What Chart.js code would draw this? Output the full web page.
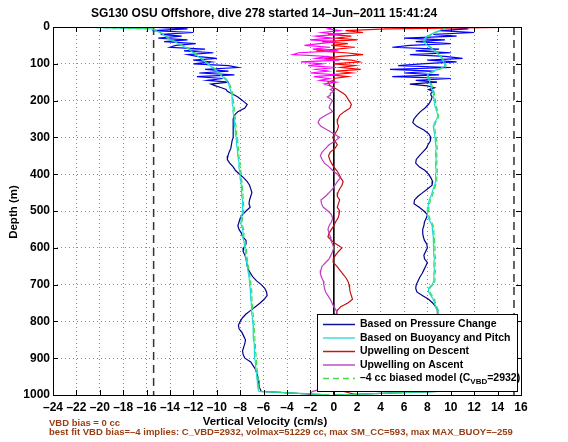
<!DOCTYPE html>
<html>
<head>
<meta charset="utf-8">
<script src="https://cdn.jsdelivr.net/npm/chart.js@4"></script>
<style>
  html, body { margin: 0; background: #fff; }
  #wrap { width: 568px; height: 442px; }
</style>
</head>
<body>
<div id="wrap"><canvas id="grafico"></canvas></div>
<script>
// depth grid (m): 5 m steps to 200 m, then 10 m steps
const depth = [
  0, 5, 10, 15, 20, 25, 30, 35, 40, 45,
  50, 55, 60, 65, 70, 75, 80, 85, 90, 95,
  100, 105, 110, 115, 120, 125, 130, 135, 140, 145,
  150, 155, 160, 165, 170, 175, 180, 185, 190, 195,
  200,
  210, 220, 230, 240, 250, 260, 270, 280, 290, 300,
  310, 320, 330, 340, 350, 360, 370, 380, 390, 400,
  410, 420, 430, 440, 450, 460, 470, 480, 490, 500,
  510, 520, 530, 540, 550, 560, 570, 580, 590, 600,
  610, 620, 630, 640, 650, 660, 670, 680, 690, 700,
  710, 720, 730, 740, 750, 760, 770, 780, 790, 800,
  810, 820, 830, 840, 850, 860, 870, 880, 890, 900,
  910, 920, 930, 940, 950, 960, 970, 980, 990, 1000
];

// descent, based on pressure change (cm/s)
const pressDown = [
  -16.0, -12.5, -15.5, -12.0, -14.8, -13.0, -15.0, -12.5, -14.5, -11.8,
  -13.5, -14.0, -11.0, -12.8, -10.3, -12.5, -11.7, -10.0, -12.0, -10.5,
  -12.0, -9.0, -8.2, -11.0, -9.0, -11.5, -8.5, -11.7, -9.5, -10.8,
  -9.0, -10.5, -10.1, -9.6, -9.2, -9.1, -8.8, -8.5, -8.2, -8.0,
  -7.8,
  -7.4, -7.6, -8.2, -8.5, -8.6, -8.6, -8.6, -8.6, -8.6, -8.6,
  -8.7, -8.75, -8.8, -8.95, -9.05, -9.1, -8.9, -8.6, -8.4, -8.05,
  -7.7, -7.4, -7.2, -7.1, -7.0, -7.1, -7.2, -7.25, -7.15, -7.5,
  -7.8, -8.0, -8.1, -8.2, -8.1, -7.9, -7.8, -7.5, -7.5, -7.7,
  -7.75, -7.6, -7.5, -7.45, -7.4, -7.3, -7.1, -6.9, -6.6, -6.2,
  -5.9, -5.75, -5.7, -5.95, -6.3, -6.7, -7.1, -7.5, -7.8, -8.0,
  -8.15, -8.1, -7.85, -7.7, -7.55, -7.6, -7.7, -7.8, -7.75, -7.6,
  -7.1, -6.9, -6.7, -6.6, -6.5, -6.45, -6.4, -6.35, -6.2, -0.5
];

// ascent, based on pressure change
const pressUp = [
  9.5, 11.5, 9.0, 12.0, 8.5, 10.5, 6.0, 9.5, 7.0, 10.0,
  6.5, 5.0, 9.0, 7.0, 10.0, 6.5, 9.5, 11.0, 8.0, 10.5,
  7.5, 5.5, 10.0, 4.8, 8.5, 6.0, 9.0, 5.0, 10.0, 7.0,
  8.8, 6.5, 8.0, 8.6, 8.1, 8.5, 8.3, 8.3, 8.4, 8.35,
  8.3,
  8.1, 7.8, 7.4, 7.1, 6.85, 6.75, 7.1, 7.7, 8.1, 8.3,
  8.25, 8.05, 7.9, 7.6, 7.3, 7.05, 7.0, 7.3, 7.8, 8.1,
  8.3, 8.45, 8.4, 8.0, 7.6, 7.2, 6.9, 6.85, 7.3, 7.7,
  8.0, 7.9, 7.75, 7.7, 7.6, 7.6, 7.65, 7.75, 7.95, 8.0,
  7.85, 7.7, 7.75, 8.0, 7.85, 7.7, 7.55, 7.35, 7.2, 7.05,
  7.0, 7.1, 7.6, 8.1, 8.45, 8.7, 8.85, 8.9, 8.9, 8.85,
  8.8, 8.75, 8.7, 8.7, 8.75, 8.8, 8.8, 8.75, 8.7, 8.7,
  8.75, 8.8, 8.8, 8.85, 8.85, 8.9, 8.9, 8.9, 8.8, 0.0
];

// based on buoyancy and pitch
const buoyDown = [
  -22.0, -15.6, -15.2, -14.9, -14.6, -14.4, -14.2, -14.0, -13.6, -13.3,
  -13.0, -12.7, -12.4, -12.2, -12.0, -11.8, -11.6, -11.4, -11.2, -11.0,
  -10.8, -10.6, -10.4, -10.2, -10.0, -9.85, -9.7, -9.5, -9.35, -9.2,
  -9.1, -9.0, -8.95, -8.9, -8.85, -8.8, -8.75, -8.72, -8.7, -8.7,
  -8.68,
  -8.65, -8.6, -8.62, -8.55, -8.5, -8.52, -8.45, -8.4, -8.42, -8.35,
  -8.3, -8.32, -8.25, -8.2, -8.22, -8.15, -8.1, -8.12, -8.05, -8.0,
  -8.02, -7.95, -7.9, -7.92, -7.85, -7.87, -7.8, -7.82, -7.8, -7.8,
  -7.85, -7.9, -7.95, -7.9, -7.8, -7.75, -7.8, -7.7, -7.65, -7.6,
  -7.55, -7.55, -7.5, -7.45, -7.4, -7.35, -7.3, -7.25, -7.2, -7.2,
  -7.15, -7.1, -7.1, -7.1, -7.05, -7.05, -7.0, -7.0, -6.95, -6.95,
  -6.9, -6.9, -6.9, -6.85, -6.85, -6.8, -6.8, -6.8, -6.75, -6.75,
  -6.7, -6.7, -6.65, -6.6, -6.6, -6.55, -6.5, -6.5, -6.4, -0.3
];

const buoyUp = [
  9.5, 9.3, 9.0, 8.6, 8.3, 8.0, 7.8, 7.7, 7.7, 7.8,
  8.0, 8.2, 8.4, 8.6, 8.8, 8.95, 9.1, 9.2, 9.3, 9.4,
  9.45, 9.5, 9.3, 8.9, 8.5, 8.2, 8.0, 8.0, 8.1, 8.15,
  8.2, 8.25, 8.3, 8.35, 8.4, 8.45, 8.5, 8.5, 8.55, 8.55,
  8.6,
  8.6, 8.7, 8.8, 8.9, 8.8, 8.6, 8.5, 8.55, 8.6, 8.65,
  8.7, 8.7, 8.75, 8.7, 8.7, 8.75, 8.7, 8.7, 8.75, 8.7,
  8.7, 8.7, 8.6, 8.5, 8.4, 8.3, 8.15, 8.1, 8.05, 8.0,
  8.0, 8.1, 8.25, 8.4, 8.45, 8.45, 8.5, 8.5, 8.55, 8.55,
  8.55, 8.55, 8.6, 8.55, 8.55, 8.6, 8.55, 8.55, 8.55, 8.4,
  8.1, 8.1, 8.3, 8.5, 8.6, 8.7, 8.85, 8.9, 8.95, 9.0,
  9.0, 9.0, 9.05, 9.0, 9.0, 9.05, 9.0, 9.0, 9.05, 9.0,
  9.0, 9.05, 9.0, 9.0, 9.05, 9.0, 9.0, 9.0, 8.9, 0.0
];

// -4 cc biased model
const modelDown = [
  -22.4, -15.5, -15.1, -14.8, -14.5, -14.3, -14.1, -13.9, -13.5, -13.2,
  -12.9, -12.6, -12.3, -12.1, -11.9, -11.7, -11.5, -11.3, -11.1, -10.9,
  -10.7, -10.5, -10.3, -10.1, -9.9, -9.75, -9.6, -9.4, -9.25, -9.1,
  -9.0, -8.9, -8.85, -8.8, -8.75, -8.7, -8.65, -8.62, -8.6, -8.6,
  -8.58,
  -8.55, -8.5, -8.52, -8.45, -8.4, -8.42, -8.35, -8.3, -8.32, -8.25,
  -8.2, -8.22, -8.15, -8.1, -8.12, -8.05, -8.0, -8.02, -7.95, -7.9,
  -7.92, -7.85, -7.8, -7.82, -7.75, -7.77, -7.7, -7.72, -7.7, -7.7,
  -7.75, -7.8, -7.85, -7.8, -7.7, -7.65, -7.7, -7.6, -7.55, -7.5,
  -7.45, -7.45, -7.4, -7.35, -7.3, -7.25, -7.2, -7.15, -7.1, -7.1,
  -7.05, -7.0, -7.0, -7.0, -6.95, -6.95, -6.9, -6.9, -6.85, -6.85,
  -6.8, -6.8, -6.8, -6.75, -6.75, -6.7, -6.7, -6.7, -6.65, -6.65,
  -6.6, -6.6, -6.55, -6.5, -6.5, -6.45, -6.4, -6.4, -6.3, -0.2
];

const modelUp = [
  9.6, 9.4, 9.1, 8.7, 8.4, 8.1, 7.9, 7.8, 7.8, 7.9,
  8.1, 8.3, 8.5, 8.7, 8.9, 9.05, 9.2, 9.3, 9.4, 9.5,
  9.55, 9.6, 9.4, 9.0, 8.6, 8.3, 8.1, 8.1, 8.2, 8.25,
  8.3, 8.35, 8.4, 8.45, 8.5, 8.55, 8.6, 8.6, 8.65, 8.65,
  8.7,
  8.7, 8.8, 8.9, 8.95, 8.9, 8.7, 8.6, 8.65, 8.7, 8.75,
  8.8, 8.8, 8.85, 8.8, 8.8, 8.85, 8.8, 8.8, 8.85, 8.8,
  8.8, 8.8, 8.7, 8.6, 8.5, 8.4, 8.25, 8.2, 8.15, 8.1,
  8.1, 8.2, 8.35, 8.5, 8.55, 8.55, 8.6, 8.6, 8.65, 8.65,
  8.65, 8.65, 8.7, 8.65, 8.65, 8.7, 8.65, 8.65, 8.65, 8.5,
  8.2, 8.2, 8.4, 8.6, 8.7, 8.8, 8.95, 9.0, 9.05, 9.1,
  9.1, 9.1, 9.15, 9.1, 9.1, 9.15, 9.1, 9.1, 9.15, 9.1,
  9.1, 9.15, 9.1, 9.1, 9.15, 9.1, 9.1, 9.1, 9.0, 0.1
];

// upwelling (water velocity)
const upwellDown = [
  17.0, 4.5, 1.0, 2.5, -0.5, 1.5, 0.2, 2.0, -1.0, 1.2,
  -0.2, 1.8, 0.3, -1.5, 1.0, 2.5, 0.5, -0.8, 1.5, 2.2,
  0.0, 1.8, 0.6, 2.3, 0.2, 1.5, -0.3, 1.2, 0.0, 0.0,
  -0.5, -0.4, -0.3, 0.0, 0.3, 0.55, 0.8, 1.0, 1.1, 1.2,
  1.3,
  1.5, 1.4, 0.9, 0.5, 0.35, 0.3, 0.4, 0.3, 0.1, -0.1,
  0.1, 0.3, 0.1, -0.3, -0.45, -0.35, -0.2, 0.0, 0.25, 0.45,
  0.6, 0.8, 0.7, 0.5, 0.35, 0.3, 0.5, 0.4, 0.3, 0.5,
  0.45, 0.35, 0.15, 0.0, -0.2, -0.4, -0.5, -0.2, 0.2, 0.7,
  0.4, 0.15, -0.05, -0.05, 0.25, 0.5, 0.75, 1.0, 1.2, 1.3,
  1.35, 1.4, 1.5, 1.6, 1.2, 0.6, 0.3, 0.2, 0.3, 0.4,
  0.5, 0.4, 0.3, 0.4, 0.5, 0.6, 0.5, 0.4, 0.5, 0.6,
  0.5, 0.4, 0.5, 0.6, 0.5, 0.4, 0.5, 0.6, 0.8, 2.0
];

const upwellUp = [
  0.0, -0.5, 0.5, -1.0, 0.3, -1.5, -0.2, -2.0, 0.2, -1.2,
  -2.5, -0.3, -1.8, 0.4, -3.0, -3.5, -0.5, -1.5, 0.5, -2.8,
  -1.0, -2.2, 0.2, -1.5, -0.5, -2.0, 0.3, -1.7, -0.4, -1.2,
  0.2, -0.8, -0.3, 0.0, -0.3, 0.0, -0.3, -0.3, -0.55, -0.3,
  -0.1,
  -0.3, -0.4, -0.1, -0.7, -1.2, -1.35, -1.1, -0.55, 0.0, 0.5,
  0.1, -0.4, -0.7, -1.0, -1.15, -1.0, -0.8, -0.4, -0.1, 0.3,
  0.55, 0.3, 0.1, -0.1, -0.4, -0.7, -1.1, -1.05, -0.9, -0.5,
  -0.2, -0.1, -0.2, -0.4, -0.5, -0.4, -0.3, -0.25, -0.1, 0.0,
  -0.1, -0.25, -0.4, -0.7, -1.0, -1.1, -1.15, -1.05, -0.9, -0.85,
  -0.8, -0.7, -0.5, -0.3, -0.15, 0.0, 0.2, 0.3, 0.2, 0.0,
  -0.2, -0.3, -0.2, -0.1, -0.2, -0.3, -0.4, -0.3, -0.2, -0.3,
  -0.4, -0.5, -0.4, -0.3, -0.4, -0.5, -0.6, -0.5, -1.8, -2.2
];

// reference lines
const limitVel = [-15.4, 15.4];
const lineDepth = [0, 1000];

const xTicks = [-24, 16, 2];   // min, max, step
const yTicks = [0, 1000, 100];

const FONTE = "'Liberation Sans', Arial, Helvetica, sans-serif";
const MARROM = '#993d12';

function pts(vals) {
  return depth.map((d, i) => ({ x: vals[i], y: d }));
}

function vertical(v) {
  return lineDepth.map(d => ({ x: v, y: d }));
}

// cor diferente na parte ruidosa perto da superficie
function serie(label, vals, escura, clara, limite, extra) {
  return Object.assign({
    label: label,
    data: pts(vals),
    showLine: true,
    pointRadius: 0,
    borderWidth: 1.2,
    borderColor: escura,
    segment: {
      borderColor: ctx => (ctx.p0.parsed.y < limite ? clara : escura)
    }
  }, extra || {});
}

const legenda = [
  { texto: 'Based on Pressure Change', cor: '#12129a' },
  { texto: 'Based on Buoyancy and Pitch', cor: '#3fdede' },
  { texto: 'Upwelling on Descent', cor: '#c21818' },
  { texto: 'Upwelling on Ascent', cor: '#c24cc2' },
  { texto: '\u20134 cc biased model (C', sub: 'VBD', resto: '=2932)', cor: '#4cdc4c', dash: [6, 4] }
];

const decoracao = {
  id: 'decoracao',
  afterDraw(chart) {
    const ctx = chart.ctx;
    const a = chart.chartArea;
    const sx = chart.scales.x, sy = chart.scales.y;
    ctx.save();

    // moldura e ticks para dentro
    ctx.strokeStyle = '#000';
    ctx.lineWidth = 1;
    ctx.strokeRect(Math.round(a.left) + 0.5, Math.round(a.top) + 0.5,
      Math.round(a.right - a.left), Math.round(a.bottom - a.top));
    ctx.beginPath();
    for (let v = xTicks[0]; v <= xTicks[1]; v += xTicks[2]) {
      const px = Math.round(sx.getPixelForValue(v)) + 0.5;
      ctx.moveTo(px, a.bottom); ctx.lineTo(px, a.bottom - 5);
      ctx.moveTo(px, a.top); ctx.lineTo(px, a.top + 5);
    }
    for (let d = yTicks[0]; d <= yTicks[1]; d += yTicks[2]) {
      const py = Math.round(sy.getPixelForValue(d)) + 0.5;
      ctx.moveTo(a.left, py); ctx.lineTo(a.left + 5, py);
      ctx.moveTo(a.right, py); ctx.lineTo(a.right - 5, py);
    }
    ctx.stroke();

    // legenda
    const lx = 317, ly = 314, lw = 200, lh = 77;
    ctx.fillStyle = '#fff';
    ctx.fillRect(lx, ly, lw, lh);
    ctx.strokeRect(lx + 0.5, ly + 0.5, lw, lh);
    legenda.forEach((item, i) => {
      const y = ly + 10.5 + i * 13.5;
      ctx.beginPath();
      ctx.strokeStyle = item.cor;
      ctx.lineWidth = 1.5;
      ctx.setLineDash(item.dash || []);
      ctx.moveTo(lx + 6, y); ctx.lineTo(lx + 38, y);
      ctx.stroke();
      ctx.setLineDash([]);
      ctx.fillStyle = '#000';
      ctx.font = 'bold 10.5px ' + FONTE;
      ctx.textBaseline = 'middle';
      ctx.textAlign = 'left';
      let tx = lx + 43;
      ctx.fillText(item.texto, tx, y);
      if (item.sub) {
        tx += ctx.measureText(item.texto).width;
        ctx.font = 'bold 8px ' + FONTE;
        ctx.fillText(item.sub, tx, y + 3);
        tx += ctx.measureText(item.sub).width;
        ctx.font = 'bold 10.5px ' + FONTE;
        ctx.fillText(item.resto, tx, y);
      }
    });

    // textos
    ctx.fillStyle = '#000';
    ctx.textAlign = 'center';
    ctx.textBaseline = 'middle';
    ctx.font = 'bold 12px ' + FONTE;
    ctx.fillText('SG130 OSU Offshore, dive 278 started 14\u2013Jun\u20132011 15:41:24', 264, 14);
    ctx.font = 'bold 11.5px ' + FONTE;
    ctx.fillText('Vertical Velocity (cm/s)', 265, 422);
    ctx.save();
    ctx.translate(14, 212);
    ctx.rotate(-Math.PI / 2);
    ctx.fillText('Depth (m)', 0, 0);
    ctx.restore();

    ctx.fillStyle = MARROM;
    ctx.textAlign = 'left';
    ctx.font = 'bold 9.5px ' + FONTE;
    ctx.fillText('VBD bias = 0 cc', 49, 423);
    ctx.fillText('best fit VBD bias=\u20134 implies: C_VBD=2932, volmax=51229 cc, max SM_CC=593, max MAX_BUOY=\u2013259', 49, 432);
    ctx.restore();
  }
};

const ctx = document.getElementById('grafico').getContext('2d');

new Chart(ctx, {
  type: 'scatter',
  data: {
    datasets: [
      serie('-4 cc biased model', modelDown, '#33e04a', '#33e04a', 0, { borderDash: [5, 3] }),
      serie('-4 cc biased model up', modelUp, '#33e04a', '#33e04a', 0, { borderDash: [5, 3] }),
      serie('Upwelling on Ascent', upwellUp, '#c03cc0', '#ff00ff', 160),
      serie('Upwelling on Descent', upwellDown, '#c01010', '#ff0000', 145),
      serie('Based on Buoyancy and Pitch', buoyDown, '#22dcdc', '#22dcdc', 0),
      serie('Based on Buoyancy and Pitch up', buoyUp, '#22dcdc', '#22dcdc', 0),
      serie('Based on Pressure Change', pressDown, '#00008c', '#0000ff', 150),
      serie('Based on Pressure Change up', pressUp, '#00008c', '#0000ff', 150),
      { data: vertical(0), showLine: true, pointRadius: 0, borderWidth: 1, borderColor: '#000' },
      { data: vertical(limitVel[0]), showLine: true, pointRadius: 0, borderWidth: 1.5, borderColor: '#333', borderDash: [8, 5] },
      { data: vertical(limitVel[1]), showLine: true, pointRadius: 0, borderWidth: 1.5, borderColor: '#333', borderDash: [8, 5] }
    ]
  },
  options: {
    responsive: true,
    maintainAspectRatio: false,
    animation: false,
    devicePixelRatio: 1,
    layout: { padding: { top: 27, right: 47, left: 0, bottom: 0 } },
    plugins: { legend: { display: false }, tooltip: { enabled: false }, title: { display: false } },
    scales: {
      x: {
        type: 'linear',
        min: xTicks[0],
        max: xTicks[1],
        afterFit: s => { s.height = 47; },
        ticks: {
          stepSize: xTicks[2],
          padding: 5,
          maxRotation: 0,
          minRotation: 0,
          autoSkip: false,
          color: '#000',
          font: { family: FONTE, size: 12, weight: 'bold' },
          callback: v => (v < 0 ? '\u2013' + Math.abs(v) : String(v))
        },
        grid: { color: '#8a8a8a', drawTicks: false },
        border: { display: false, dash: [1, 3] }
      },
      y: {
        type: 'linear',
        reverse: true,
        min: yTicks[0],
        max: yTicks[1],
        afterFit: s => { s.width = 53; },
        ticks: {
          stepSize: yTicks[2],
          padding: 3,
          color: '#000',
          font: { family: FONTE, size: 12, weight: 'bold' },
          callback: v => String(v)
        },
        grid: { color: '#8a8a8a', drawTicks: false },
        border: { display: false, dash: [1, 3] }
      }
    }
  },
  plugins: [decoracao]
});
</script>
</body>
</html>
